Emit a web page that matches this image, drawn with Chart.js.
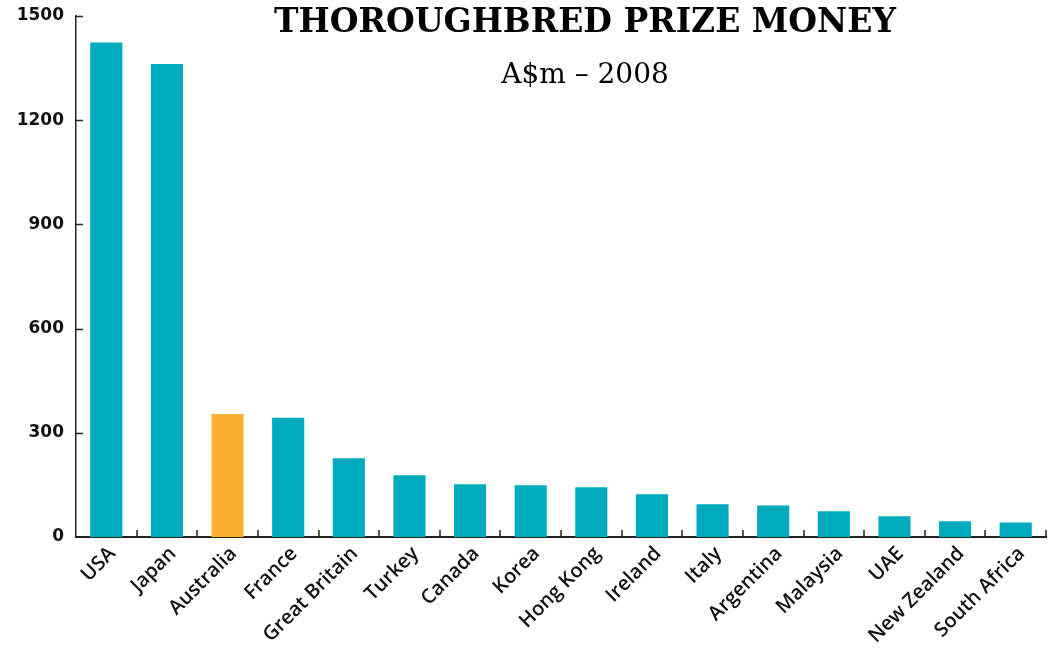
<!DOCTYPE html>
<html lang="en">
<head>
<meta charset="UTF-8">
<title>Thoroughbred prize money</title>
<script src="https://cdn.jsdelivr.net/npm/chart.js"></script>
<style>
  html, body { margin: 0; padding: 0; background: #fff; }
  #wrap { position: relative; width: 1055px; height: 654px; }
  .title { position: absolute; left: 0; width: 1170px; text-align: center; color: #000; font-family: "DejaVu Serif", serif; }
  #t1 { top: 1px; font-size: 33px; font-weight: bold; }
  #t2 { top: 57px; font-size: 28px; }
</style>
</head>
<body>
<div id="wrap">
  <canvas id="chart" width="1055" height="654"></canvas>
  <div class="title" id="t1">THOROUGHBRED PRIZE MONEY</div>
  <div class="title" id="t2">A$m – 2008</div>
</div>
<script>
const countries = ["USA", "Japan", "Australia", "France", "Great Britain", "Turkey", "Canada", "Korea",
  "Hong Kong", "Ireland", "Italy", "Argentina", "Malaysia", "UAE", "New Zealand", "South Africa"];
const prizeMoney = [1424, 1362, 354, 343, 227, 178, 152, 149, 143, 123, 94, 91, 74, 60, 45, 42];
const yTicks = [0, 300, 600, 900, 1200, 1500];
const highlight = "Australia";

const teal = "#00abbd";
const orange = "#fbb034";

// ticks in the reference point into the plot, chart.js draws them outward, so draw them here
const innerTicks = {
  id: "innerTicks",
  afterDraw(chart) {
    const ctx = chart.ctx;
    const x = chart.scales.x, y = chart.scales.y;
    const area = chart.chartArea;
    const len = 7;
    ctx.save();
    ctx.strokeStyle = "#222";
    ctx.lineWidth = 1.5;
    ctx.beginPath();
    yTicks.forEach(v => {
      if (v === 0) return;
      const py = Math.round(y.getPixelForValue(v)) + 0.5;
      ctx.moveTo(area.left, py);
      ctx.lineTo(area.left + len, py);
    });
    for (let i = 1; i <= countries.length; i++) {
      const px = i < countries.length
        ? (x.getPixelForValue(i - 1) + x.getPixelForValue(i)) / 2
        : area.right;
      ctx.moveTo(Math.round(px), area.bottom);
      ctx.lineTo(Math.round(px), area.bottom - len);
    }
    ctx.stroke();
    ctx.restore();
  }
};

new Chart(document.getElementById("chart"), {
  type: "bar",
  data: {
    labels: countries,
    datasets: [{
      data: prizeMoney,
      backgroundColor: countries.map(c => c === highlight ? orange : teal),
      borderWidth: 0,
      barPercentage: 0.53,
      categoryPercentage: 1
    }]
  },
  options: {
    responsive: false,
    animation: false,
    layout: { padding: { top: 16, right: 9, left: 0, bottom: 0 } },
    plugins: { legend: { display: false }, tooltip: { enabled: false } },
    scales: {
      x: {
        offset: true,
        grid: { display: false, drawTicks: false },
        border: { color: "#222", width: 2 },
        ticks: {
          color: "#111",
          font: { family: "Open Sans", size: 20, weight: 600 },
          minRotation: 45,
          maxRotation: 45,
          labelOffset: 6,
          padding: 5
        },
        afterFit(s) { s.height = 117; s.paddingLeft = 0; s.paddingRight = 0; }
      },
      y: {
        min: 0,
        max: 1500,
        grid: { display: false, drawTicks: false },
        border: { color: "#222", width: 1.5 },
        afterBuildTicks(s) { s.ticks = yTicks.map(v => ({ value: v })); },
        ticks: {
          color: "#111",
          font: { family: "DejaVu Sans", size: 17, weight: "bold" },
          padding: 12,
          callback: v => String(v)
        },
        afterFit(s) { s.width = 76; s.paddingTop = 0; s.paddingBottom = 0; }
      }
    }
  },
  plugins: [innerTicks]
});
</script>
</body>
</html>
